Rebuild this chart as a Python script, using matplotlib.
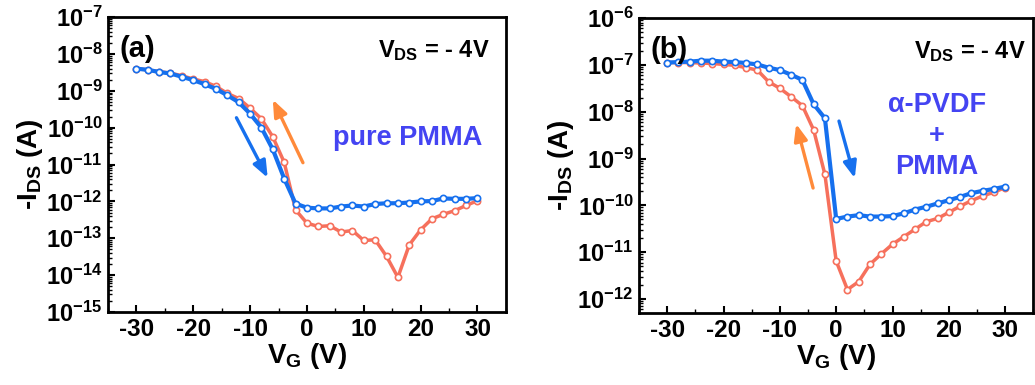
import matplotlib
matplotlib.use("Agg")
import matplotlib.pyplot as plt
import numpy as np
from matplotlib.ticker import FixedLocator, LogLocator, MultipleLocator, NullFormatter

plt.rcParams['font.family'] = 'Liberation Sans'
plt.rcParams['font.weight'] = 'bold'
plt.rcParams['axes.labelweight'] = 'bold'
plt.rcParams['mathtext.fontset'] = 'custom'
plt.rcParams['mathtext.default'] = 'bf'
plt.rcParams['mathtext.bf'] = 'Liberation Sans:bold'
plt.rcParams['mathtext.rm'] = 'Liberation Sans:bold'
plt.rcParams['axes.unicode_minus'] = False

vg = np.arange(-30, 31, 2)

# panel (a), pure PMMA, log10 of -I_DS
a_fwd = [-8.40, -8.43, -8.49, -8.53, -8.62, -8.71, -8.82, -8.95, -9.12, -9.31,
         -9.62, -10.0, -10.59, -11.38, -12.06, -12.17, -12.19, -12.19, -12.14, -12.11,
         -12.14, -12.07, -12.05, -12.05, -12.03, -12.0, -11.99, -11.92, -11.93, -11.93, -11.91]
a_rev = [-8.40, -8.43, -8.48, -8.52, -8.59, -8.68, -8.75, -8.88, -9.07, -9.21,
         -9.47, -9.76, -10.25, -10.94, -12.23, -12.59, -12.68, -12.66, -12.83, -12.79,
         -13.06, -13.04, -13.49, -14.06, -13.18, -12.77, -12.47, -12.35, -12.25, -12.11, -11.98]

# panel (b), a-PVDF + PMMA
b_fwd = [-6.95, -6.94, -6.93, -6.91, -6.91, -6.93, -6.94, -6.96, -6.99, -7.06,
         -7.11, -7.21, -7.32, -7.84, -8.14, -10.29, -10.24, -10.21, -10.24, -10.24,
         -10.23, -10.17, -10.09, -10.03, -9.96, -9.89, -9.82, -9.74, -9.69, -9.65, -9.60]
b_rev = [-6.95, -6.95, -6.95, -6.96, -6.97, -6.99, -7.01, -7.06, -7.11, -7.36,
         -7.50, -7.68, -7.87, -8.39, -9.34, -11.19, -11.80, -11.63, -11.26, -11.04,
         -10.83, -10.67, -10.51, -10.35, -10.28, -10.15, -10.02, -9.90, -9.80, -9.72, -9.62]

a_decades = [-15, -14, -13, -12, -11, -10, -9, -8, -7]
b_decades = [-12, -11, -10, -9, -8, -7, -6]
xticks = [-30, -20, -10, 0, 10, 20, 30]

blue = '#1670ee'
red = '#f6705c'
orange = '#ff8a3a'
txtblue = '#4444f2'

fig = plt.figure(figsize=(10.35, 3.85), dpi=100)
axa = fig.add_axes([0.1043, 0.1896, 0.3845, 0.766])
axb = fig.add_axes([0.6174, 0.1870, 0.3810, 0.766])


def setup(ax, decades, ylo):
    ax.set_yscale('log')
    ax.set_xlim(-35, 35)
    ax.set_ylim(10.0 ** ylo, 10.0 ** decades[-1])
    ax.set_xticks(xticks)
    ax.set_xticklabels([str(t) for t in xticks], fontsize=17.5)
    ax.xaxis.set_minor_locator(MultipleLocator(5))
    ax.yaxis.set_major_locator(FixedLocator([10.0 ** d for d in decades]))
    ax.set_yticklabels(['$10^{%d}$' % d for d in decades], fontsize=17)
    ax.yaxis.set_minor_locator(LogLocator(base=10, subs=np.arange(2, 10), numticks=50))
    ax.yaxis.set_minor_formatter(NullFormatter())
    ax.tick_params(which='major', direction='in', length=5, width=1.5, pad=4)
    ax.tick_params(which='minor', direction='in', length=3, width=1.0)
    for s in ax.spines.values():
        s.set_linewidth(2)
    ax.set_xlabel('V$_{G}$ (V)', fontsize=20, labelpad=0)
    ax.set_ylabel('-I$_{DS}$ (A)', fontsize=20, labelpad=1)


def curves(ax, fwd, rev):
    ax.plot(vg, 10.0 ** np.array(rev), color=red, lw=2.5, marker='o', ms=4.5,
            mfc='white', mec=red, mew=1.2, zorder=2)
    ax.plot(vg, 10.0 ** np.array(fwd), color=blue, lw=3, marker='o', ms=4.5,
            mfc='white', mec=blue, mew=1.2, zorder=3)


def arrow(ax, x0, y0, x1, y1, c):
    ax.annotate('', xy=(x1, 10.0 ** y1), xytext=(x0, 10.0 ** y0),
                arrowprops=dict(arrowstyle='-|>,head_length=1.0,head_width=0.4',
                                color=c, lw=2.4, shrinkA=0, shrinkB=0))


setup(axa, a_decades, -15)
curves(axa, a_fwd, a_rev)
arrow(axa, -12.4, -9.73, -6.9, -11.36, blue)
arrow(axa, -0.7, -10.95, -6.0, -9.24, orange)
axa.text(0.03, 0.94, '(a)', transform=axa.transAxes, fontsize=21, va='top', ha='left')
axa.text(0.96, 0.93, 'V$_{DS}$ = - 4V', transform=axa.transAxes, fontsize=17, va='top', ha='right')
axa.text(0.94, 0.59, 'pure PMMA', transform=axa.transAxes, fontsize=19.5, va='center', ha='right',
         color=txtblue)

setup(axb, b_decades, -12.3)
curves(axb, b_fwd, b_rev)
arrow(axb, 0.5, -8.20, 3.3, -9.42, blue)
arrow(axb, -4.1, -9.63, -7.1, -8.26, orange)
axb.text(0.03, 0.94, '(b)', transform=axb.transAxes, fontsize=21, va='top', ha='left')
axb.text(0.98, 0.93, 'V$_{DS}$ = - 4V', transform=axb.transAxes, fontsize=17, va='top', ha='right')
axb.text(0.756, 0.60, 'α-PVDF\n+\nPMMA', transform=axb.transAxes, fontsize=19.5, va='center',
         ha='center', color=txtblue, linespacing=1.25)

fig.savefig('out.png', dpi=100)
